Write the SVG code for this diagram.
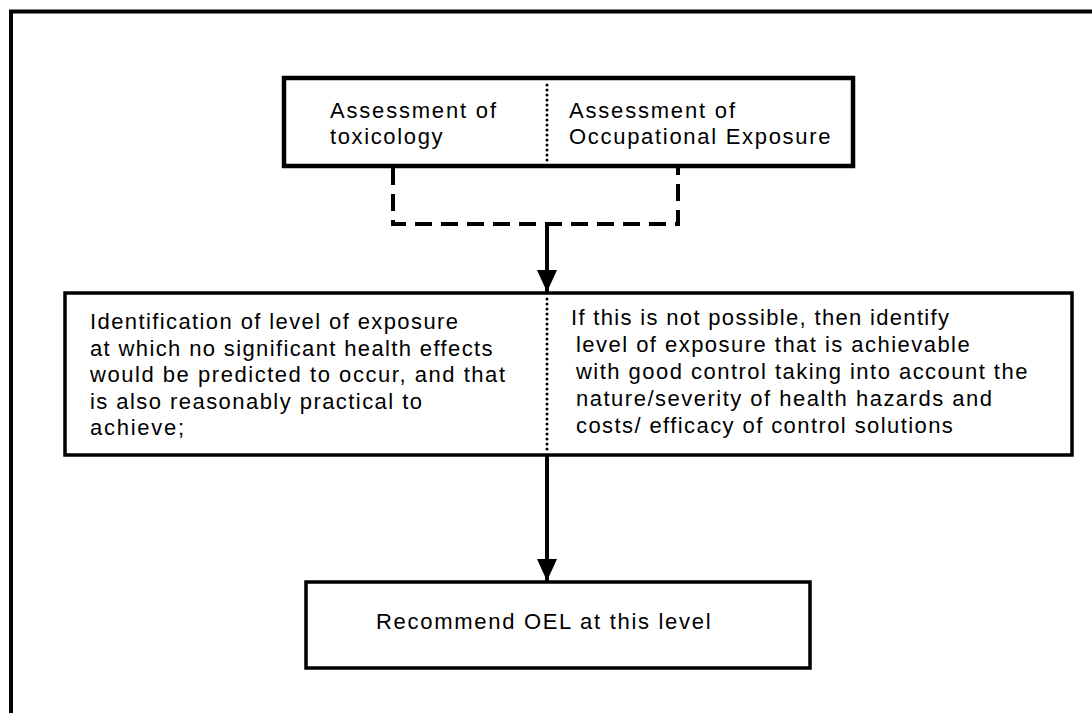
<svg xmlns="http://www.w3.org/2000/svg" width="1092" height="713" viewBox="0 0 1092 713">
<defs>
<style>
.t{font-family:"Liberation Sans",Arial,sans-serif;font-size:22px;fill:#000}
.box{fill:#fff;stroke:#000}
.dot{fill:none;stroke:#000;stroke-width:3;stroke-linecap:round;stroke-dasharray:0 5}
.conn{fill:none;stroke:#000;stroke-width:4}
</style>
<marker id="ah" markerUnits="userSpaceOnUse" markerWidth="22" markerHeight="20" refX="22" refY="10" orient="auto" viewBox="0 0 22 20">
<path d="M0,0 L22,10 L0,20 Z" fill="#000"/>
</marker>
</defs>
<rect width="1092" height="713" fill="#fff"/>
<path d="M11,713 V11.5 H1092" fill="none" stroke="#000" stroke-width="4"/>

<g id="top-box">
<rect class="box" x="284" y="78" width="569" height="88" stroke-width="4.5"/>
<line class="dot" x1="547" y1="85" x2="547" y2="161"/>
<text class="t" x="330" y="118" textLength="166" lengthAdjust="spacing">Assessment of</text>
<text class="t" x="330" y="144" textLength="112.5" lengthAdjust="spacing">toxicology</text>
<text class="t" x="569" y="118" textLength="166" lengthAdjust="spacing">Assessment of</text>
<text class="t" x="569" y="144" textLength="261.5" lengthAdjust="spacing">Occupational Exposure</text>
</g>

<g id="middle-box">
<rect class="box" x="65" y="293" width="1007" height="162" stroke-width="3.5"/>
<line class="dot" x1="547" y1="299" x2="547" y2="451"/>
<text class="t" x="90" y="329" textLength="368" lengthAdjust="spacing">Identification of level of exposure</text>
<text class="t" x="90" y="355.5" textLength="402.5" lengthAdjust="spacing">at which no significant health effects</text>
<text class="t" x="90" y="382" textLength="415" lengthAdjust="spacing">would be predicted to occur, and that</text>
<text class="t" x="90" y="408.5" textLength="332" lengthAdjust="spacing">is also reasonably practical to</text>
<text class="t" x="90" y="435" textLength="94" lengthAdjust="spacing">achieve;</text>
<text class="t" x="571" y="325" textLength="378" lengthAdjust="spacing">If this is not possible, then identify</text>
<text class="t" x="576" y="352" textLength="393.7" lengthAdjust="spacing">level of exposure that is achievable</text>
<text class="t" x="576" y="379" textLength="451.4" lengthAdjust="spacing">with good control taking into account the</text>
<text class="t" x="576" y="406" textLength="416" lengthAdjust="spacing">nature/severity of health hazards and</text>
<text class="t" x="576" y="433" textLength="376.8" lengthAdjust="spacing">costs/ efficacy of control solutions</text>
</g>

<g id="bottom-box">
<rect class="box" x="306" y="582" width="504" height="86" stroke-width="3.5"/>
<text class="t" x="376" y="629" textLength="334.6" lengthAdjust="spacing">Recommend OEL at this level</text>
</g>

<g id="connectors">
<path d="M393,168 V224 H678 V168" fill="none" stroke="#000" stroke-width="4" stroke-dasharray="17 9"/>
<path class="conn" d="M547,224 V292" marker-end="url(#ah)"/>
<path class="conn" d="M547,455 V581" marker-end="url(#ah)"/>
</g>
</svg>
